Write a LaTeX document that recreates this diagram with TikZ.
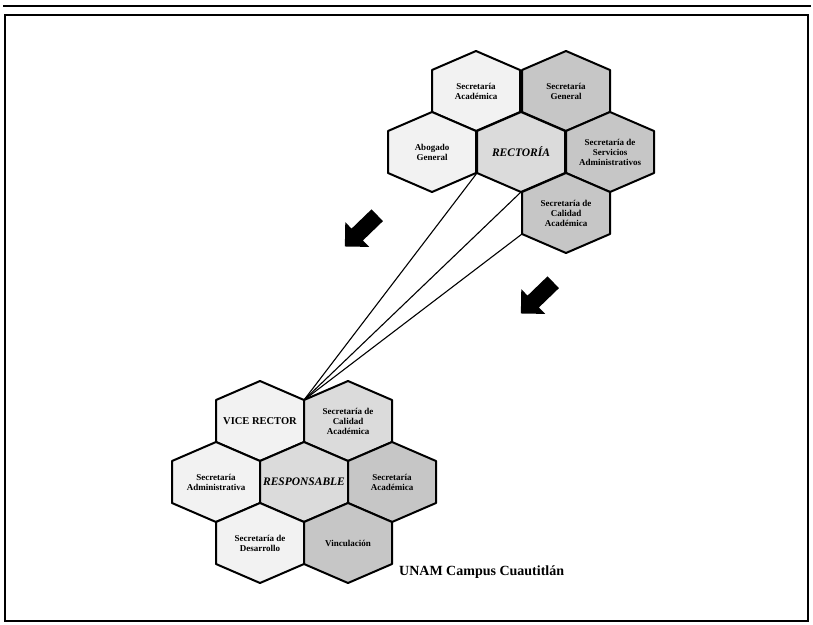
\documentclass[tikz,border=0pt]{standalone}
\usepackage{fontspec}
\setmainfont{Liberation Serif}
\usetikzlibrary{shapes.arrows}
\tikzset{
 hexline/.style={draw=black, line width=2pt, line join=round},
 hexlabel/.style={font=\fontsize{9}{10}\selectfont\bfseries, align=center, inner sep=0pt},
 biglabel/.style={font=\fontsize{11.5}{12}\selectfont\bfseries\itshape, inner sep=0pt},
 vicelabel/.style={font=\fontsize{10.5}{11}\selectfont\bfseries, inner sep=0pt},
 link/.style={draw=black, line width=1.1pt},
 blockarrow/.style={single arrow, fill=black, draw=none, minimum height=45pt, minimum width=34pt, single arrow head extend=9pt, inner sep=8pt},
 frameline/.style={draw=black, line width=1.3pt},
 lightcell/.style={fill=gray!10}, midcell/.style={fill=gray!28}, darkcell/.style={fill=gray!45}
}
\newcommand\hexcell[6]{%
  \path[hexline,#4] (#2,#3-40) coordinate (#1-t) -- (#2+44,#3-21) coordinate (#1-ur)
     -- (#2+44,#3+21) coordinate (#1-lr) -- (#2,#3+40) coordinate (#1-b)
     -- (#2-44,#3+21) coordinate (#1-ll) -- (#2-44,#3-21) coordinate (#1-ul) -- cycle;
  \node[#5] (#1) at (#2,#3) {#6};
}
\begin{document}
\begin{tikzpicture}[x=1pt,y=-1pt]
\useasboundingbox (0,0) rectangle (813,624);
% frame
\coordinate (f1) at (3,6); \coordinate (f2) at (811,6);
\draw[frameline] (f1) -- (f2);
\draw[frameline] (5,15) rectangle (808,621);
% top cluster
\hexcell{sacad}{476}{91}{lightcell}{hexlabel}{Secretaría\\Académica}
\hexcell{sgen}{566}{91}{darkcell}{hexlabel}{Secretaría\\General}
\hexcell{abog}{432}{152}{lightcell}{hexlabel}{Abogado\\General}
\hexcell{rect}{521}{152}{midcell}{biglabel}{RECTORÍA}
\hexcell{sserv}{610}{152}{darkcell}{hexlabel}{Secretaría de\\Servicios\\Administrativos}
\hexcell{scal}{566}{213}{darkcell}{hexlabel}{Secretaría de\\Calidad\\Académica}
% bottom cluster
\hexcell{vice}{260}{421}{lightcell}{vicelabel}{VICE RECTOR}
\hexcell{bcal}{348}{421}{midcell}{hexlabel}{Secretaría de\\Calidad\\Académica}
\hexcell{badm}{216}{482}{lightcell}{hexlabel}{Secretaría\\Administrativa}
\hexcell{resp}{304}{482}{midcell}{biglabel}{RESPONSABLE}
\hexcell{bacad}{392}{482}{darkcell}{hexlabel}{Secretaría\\Académica}
\hexcell{bdes}{260}{543}{lightcell}{hexlabel}{Secretaría de\\Desarrollo}
\hexcell{bvin}{348}{543}{darkcell}{hexlabel}{Vinculación}
% connectors
\draw[link] (rect-ll) -- (vice-ur);
\draw[link] (rect-b) -- (vice-ur);
\draw[link] (scal-ll) -- (vice-ur);
% arrows
\node[blockarrow, rotate=224] (arrA) at (364,228) {};
\node[blockarrow, rotate=224] (arrB) at (540,295) {};
% caption
\node[font=\fontsize{14}{15}\selectfont\bfseries, anchor=west, inner sep=0pt] (unam) at (399,572) {UNAM Campus Cuautitlán};
\end{tikzpicture}
\end{document}
